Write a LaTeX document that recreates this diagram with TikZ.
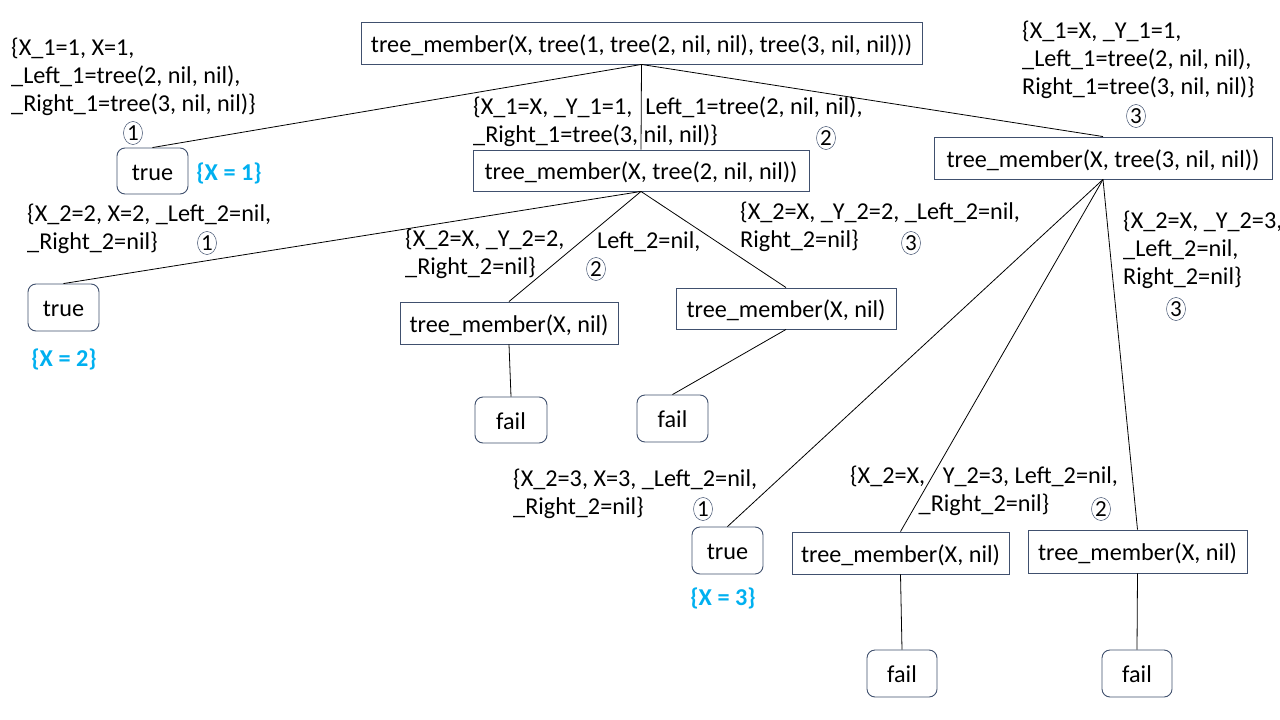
\documentclass[tikz,border=0pt]{standalone}
\usepackage{fontspec}
\setmainfont{Carlito}
\usetikzlibrary{shapes.geometric}
\definecolor{boxc}{RGB}{64,80,110}
\definecolor{ansc}{RGB}{0,176,240}
\newcommand{\tfont}{\fontsize{24.2}{28}\selectfont}
\begin{document}
\begin{tikzpicture}[x=1pt,y=-1pt,
  every node/.style={font=\tfont, inner sep=0pt},
  goal/.style={draw=boxc, line width=0.9pt, text height=18pt, text depth=0pt, align=center},
  leaf/.style={goal, rounded corners=8pt},
  lbl/.style={anchor=north west, align=left, execute at begin node=\strut},
  clbl/.style={anchor=north, align=center, execute at begin node=\strut},
  lone/.style={anchor=base west},
  num/.style={ellipse, draw=boxc, line width=0.5pt, minimum width=19pt, minimum height=23pt, font=\fontsize{23}{24}\selectfont},
  ans/.style={text=ansc, font=\tfont\bfseries, anchor=base},
  edge/.style={draw=black, line width=0.8pt}]
\fill[white] (0,0) rectangle (1280,720);
\useasboundingbox (0,0) rectangle (1280,720);

% goal boxes
\node[goal, minimum width=561pt, minimum height=42pt] (root) at (641.5,43) {tree\_member(X, tree(1, tree(2, nil, nil), tree(3, nil, nil)))};
\node[goal, minimum width=336pt, minimum height=41pt] (tm2) at (641,170.5) {tree\_member(X, tree(2, nil, nil))};
\node[goal, minimum width=338pt, minimum height=42pt] (tm3) at (1103,158) {tree\_member(X, tree(3, nil, nil))};
\node[goal, minimum width=218pt, minimum height=42pt] (tmA) at (509,323) {tree\_member(X, nil)};
\node[goal, minimum width=220pt, minimum height=41pt] (tmB) at (786,308.5) {tree\_member(X, nil)};
\node[goal, minimum width=217pt, minimum height=42pt] (tmC) at (900.5,553) {tree\_member(X, nil)};
\node[goal, minimum width=219pt, minimum height=43pt] (tmD) at (1137.5,551.5) {tree\_member(X, nil)};

% leaves
\node[leaf, minimum width=71pt, minimum height=46pt] (true1) at (152.5,171) {true};
\node[leaf, minimum width=71pt, minimum height=47pt] (true2) at (63.5,307.5) {true};
\node[leaf, minimum width=71pt, minimum height=47pt] (true3) at (727.5,550.5) {true};
\node[leaf, minimum width=72pt, minimum height=46pt] (failA) at (511,420) {fail};
\node[leaf, minimum width=71pt, minimum height=47pt] (failB) at (672.5,418.5) {fail};
\node[leaf, minimum width=70pt, minimum height=47pt] (failC) at (902,673.5) {fail};
\node[leaf, minimum width=70pt, minimum height=47pt] (failD) at (1137,673.5) {fail};

% connectors
\draw[edge] (root.south) -- (true1.north);
\draw[edge] (root.south) -- (tm2.north);
\draw[edge] (root.south) -- (tm3.north);
\draw[edge] (tm2.south) -- (true2.north);
\draw[edge] (tm2.south) -- (tmA.north);
\draw[edge] (tm2.south) -- (tmB.north);
\draw[edge] (tmA.south) -- (failA.north);
\draw[edge] (tmB.south) -- (failB.north);
\draw[edge] (tm3.south) -- (true3.north);
\draw[edge] (tm3.south) -- (tmC.north);
\draw[edge] (tm3.south) -- (tmD.north);
\draw[edge] (tmC.south) -- (failC.north);
\draw[edge] (tmD.south) -- (failD.north);

% substitution labels
\node[lbl] (l1) at (11,37.4) {\{X\_1=1, X=1,\\\_Left\_1=tree(2, nil, nil),\\\_Right\_1=tree(3, nil, nil)\}};
\node[lbl] (l2) at (473,96.4) {\{X\_1=X, \_Y\_1=1,\hspace{13pt}Left\_1=tree(2, nil, nil),\\\_Right\_1=tree(3, nil, nil)\}};
\node[lbl] (l3) at (1022,20.4) {\{X\_1=X, \_Y\_1=1,\\\_Left\_1=tree(2, nil, nil),\\Right\_1=tree(3, nil, nil)\}};
\node[lbl] (l4) at (27,203.4) {\{X\_2=2, X=2, \_Left\_2=nil,\\\_Right\_2=nil\}};
\node[lbl] (l5) at (405,228.4) {\{X\_2=X, \_Y\_2=2,\\\_Right\_2=nil\}};
\node[lone] (l5b) at (597,248) {Left\_2=nil,};
\node[lbl] (l6) at (740,201.4) {\{X\_2=X, \_Y\_2=2, \_Left\_2=nil,\\Right\_2=nil\}};
\node[lbl] (l7) at (1123,210.4) {\{X\_2=X, \_Y\_2=3,\\\_Left\_2=nil,\\Right\_2=nil\}};
\node[lbl] (l8) at (513,468.4) {\{X\_2=3, X=3, \_Left\_2=nil,\\\_Right\_2=nil\}};
\node[clbl] (l9) at (984,465.4) {\{X\_2=X, \phantom{\_}Y\_2=3, Left\_2=nil,\\\_Right\_2=nil\}};

% clause numbers
\node[num] (c1a) at (133,133) {1};
\node[num] (c2a) at (826,138) {2};
\node[num] (c3a) at (1136,116) {3};
\node[num] (c1b) at (207,243) {1};
\node[num] (c2b) at (596,269) {2};
\node[num] (c3b) at (911,243) {3};
\node[num] (c3c) at (1176,309) {3};
\node[num] (c1c) at (703,509) {1};
\node[num] (c2c) at (1101,509) {2};

% answers
\node[ans] (a1) at (229,180) {\{X = 1\}};
\node[ans] (a2) at (64,366) {\{X = 2\}};
\node[ans] (a3) at (723,605) {\{X = 3\}};
\end{tikzpicture}
\end{document}
